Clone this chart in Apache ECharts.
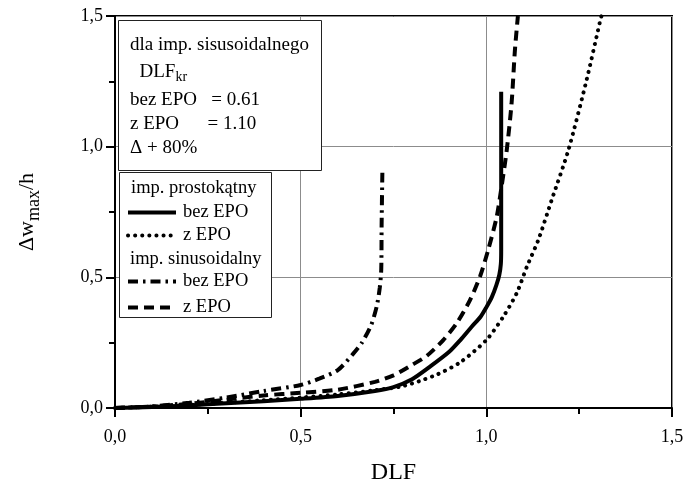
<!DOCTYPE html>
<html>
<head>
<meta charset="utf-8">
<script src="https://cdn.jsdelivr.net/npm/echarts@6/dist/echarts.min.js"></script>
<style>html,body{margin:0;padding:0;background:#fff}#c{width:687px;height:485px}</style>
</head>
<body>
<div id="c"></div>
<script>
// Data (x = DLF, y = Δw_max/h)
var rectBezEPO = [[0,0],[0.1,0.004],[0.2,0.01],[0.3,0.018],[0.4,0.026],[0.5,0.035],[0.6,0.046],[0.7,0.065],[0.75,0.08],[0.8,0.11],[0.85,0.16],[0.9,0.215],[0.93,0.26],[0.96,0.31],[0.985,0.35],[1.0,0.385],[1.015,0.425],[1.027,0.47],[1.035,0.51],[1.039,0.55],[1.04,0.6],[1.04,1.21]];
var rectZEPO = [[0,0],[0.1,0.005],[0.2,0.012],[0.3,0.02],[0.4,0.03],[0.5,0.04],[0.6,0.052],[0.7,0.068],[0.77,0.082],[0.82,0.103],[0.87,0.13],[0.93,0.175],[1.0,0.26],[1.046,0.35],[1.082,0.44],[1.109,0.54],[1.14,0.643],[1.176,0.796],[1.221,0.987],[1.27,1.255],[1.306,1.478],[1.31,1.5]];
var sinBezEPO = [[0,0],[0.1,0.006],[0.2,0.02],[0.3,0.04],[0.4,0.065],[0.5,0.088],[0.55,0.112],[0.6,0.145],[0.64,0.205],[0.665,0.25],[0.69,0.318],[0.705,0.39],[0.713,0.46],[0.717,0.53],[0.718,0.7],[0.72,0.9]];
var sinZEPO = [[0,0],[0.1,0.006],[0.2,0.016],[0.3,0.032],[0.4,0.048],[0.5,0.058],[0.6,0.07],[0.7,0.1],[0.75,0.125],[0.8,0.165],[0.84,0.2],[0.884,0.26],[0.92,0.324],[0.956,0.413],[0.983,0.503],[1.005,0.605],[1.028,0.732],[1.041,0.847],[1.055,0.987],[1.068,1.166],[1.077,1.37],[1.085,1.5]];
var xTicks = [0, 0.5, 1.0, 1.5];
var yTicks = [0, 0.5, 1.0, 1.5];
var annotLines = ['dla imp. sisusoidalnego', '  {a|DLF}{b|kr}', 'bez EPO   = 0.61', 'z EPO      = 1.10', 'Δ + 80%'];
var groupTitles = ['imp. prostokątny', 'imp. sinusoidalny'];
var legendLabels = {'p_bez': 'bez EPO', 'p_z': 'z EPO', 's_bez': 'bez EPO', 's_z': 'z EPO'};

var FONT = '"Liberation Serif", "Times New Roman", serif';
var chart = echarts.init(document.getElementById('c'));
function fmt(v){ return v.toFixed(1).replace('.', ','); }
var lw = 4;
function axisCommon(ticks){
  return {
    type:'value', min: ticks[0], max: ticks[ticks.length-1], interval: 0.5,
    axisLine:{show:true, onZero:false, lineStyle:{color:'#000', width:2}},
    axisTick:{show:true, inside:false, length:9, lineStyle:{color:'#000', width:2}},
    minorTick:{show:true, splitNumber:2, length:6, lineStyle:{color:'#000', width:2}},
    splitLine:{show:true, lineStyle:{color:'#8c8c8c', width:1}},
    axisLabel:{formatter: fmt, color:'#000', fontFamily: FONT, fontSize:18}
  };
}
var xA = axisCommon(xTicks);
xA.name = 'DLF'; xA.nameLocation = 'middle'; xA.nameGap = 53;
xA.nameTextStyle = {fontFamily: FONT, fontSize: 24, color:'#000'};
xA.axisLabel.margin = 20;
var yA = axisCommon(yTicks);
yA.name = '{a|Δw}{b|max}{a|/h}'; yA.nameLocation = 'middle'; yA.nameGap = 72;
yA.nameTextStyle = {color:'#000', rich:{a:{fontFamily: FONT, fontSize:22, color:'#000'}, b:{fontFamily: FONT, fontSize:18, color:'#000', padding:[14,0,0,0]}}};
yA.axisLabel.margin = 12;

var annotRich = {a:{fontFamily: FONT, fontSize:19, color:'#000'}, b:{fontFamily: FONT, fontSize:14, color:'#000', padding:[10,0,0,0]}};
var annotY = [45, 72, 100, 124, 148];
var graphics = [
  {type:'rect', left:118, top:20, shape:{width:203, height:150}, style:{fill:'#fff', stroke:'#222', lineWidth:1}, z:100},
  {type:'rect', left:119, top:172, shape:{width:152, height:145}, style:{fill:'#fff', stroke:'#222', lineWidth:1}, z:100}
];
annotLines.forEach(function(t, i){
  graphics.push({type:'text', x:130, y:annotY[i], z:101, style:{text:t, fontFamily:FONT, fontSize:19, fill:'#000', verticalAlign:'middle', rich: annotRich}});
});
graphics.push({type:'text', x:131, y:188, z:101, style:{text:groupTitles[0], fontFamily:FONT, fontSize:18.5, fill:'#000', verticalAlign:'middle'}});
graphics.push({type:'text', x:130, y:259, z:101, style:{text:groupTitles[1], fontFamily:FONT, fontSize:18.5, fill:'#000', verticalAlign:'middle'}});

function legendCommon(data, top, gap){
  return {show:true, orient:'vertical', left:126, top:top, padding:0, itemGap:gap, itemWidth:48, itemHeight:14, z:102,
    data:data, selectedMode:false,
    itemStyle:{opacity:0, color:'transparent', borderWidth:0},
    lineStyle:{width:4},
    formatter:function(n){return legendLabels[n];},
    textStyle:{fontFamily:FONT, fontSize:18.5, color:'#000', lineHeight:18, padding:[0,0,0,2]}};
}

function ser(name, data, dash){
  return {name:name, type:'line', data:data, symbol:'none', smooth:0.25, clip:true,
    lineStyle:{color:'#000', width:lw, type:dash, cap:'butt'},
    itemStyle:{color:'#000'}, z:5};
}
var sDot = ser('p_z', rectZEPO, [0.1, 7]); sDot.lineStyle.cap = 'round'; sDot.lineStyle.width = 4;
chart.setOption({
  animation:false,
  backgroundColor:'#fff',
  grid:{left:115, right:15, top:16, bottom:77, show:true, borderColor:'#000', borderWidth:2, backgroundColor:'transparent', containLabel:false, outerBoundsMode:'none'},
  xAxis: xA,
  yAxis: yA,
  legend:[legendCommon(['p_bez','p_z'], 203, 4), legendCommon(['s_bez','s_z'], 272, 7)],
  graphic: graphics,
  series:[
    ser('p_bez', rectBezEPO, 'solid'),
    sDot,
    ser('s_bez', sinBezEPO, [10, 5, 2.5, 5]),
    ser('s_z', sinZEPO, [10, 6])
  ]
});
</script>
</body>
</html>
